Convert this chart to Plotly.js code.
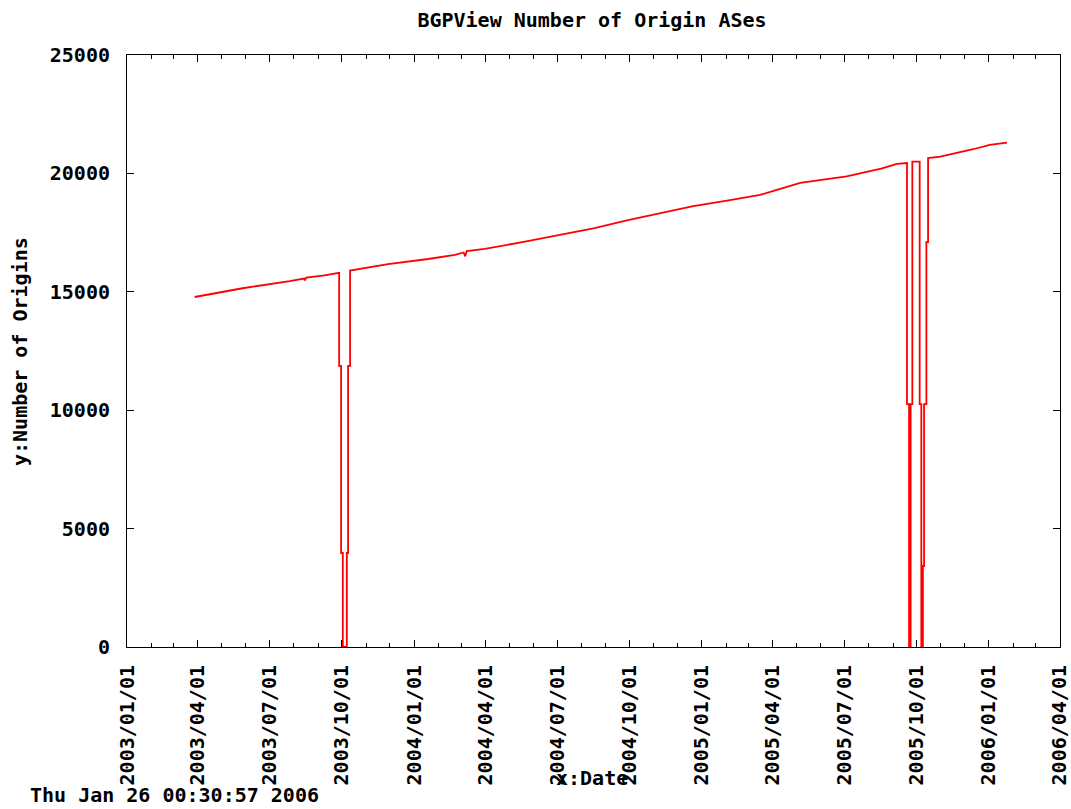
<!DOCTYPE html>
<html>
<head>
<meta charset="utf-8">
<script src="https://cdn.plot.ly/plotly-3.0.1.min.js"></script>
<style>
  html, body { margin: 0; padding: 0; background: #ffffff; }
  #chart { width: 1071px; height: 809px; }
</style>
</head>
<body>
<div id="chart"></div>
<script>
// Sample dates (repeated stamps mark the vertical drops/recoveries of the outages)
const dates = [
  '2003-03-28', '2003-05-28', '2003-07-27', '2003-08-14', '2003-08-15', '2003-08-17',
  '2003-09-07', '2003-09-25',
  '2003-09-27 18:00', '2003-09-27 18:00', '2003-09-30 06:00', '2003-09-30 06:00',
  '2003-10-02 10:00', '2003-10-02 10:00', '2003-10-07 12:00', '2003-10-07 12:00',
  '2003-10-09 02:00', '2003-10-09 02:00', '2003-10-11 16:00', '2003-10-11 16:00',
  '2003-11-29', '2004-01-19', '2004-02-22', '2004-03-04', '2004-03-06', '2004-03-08',
  '2004-03-31', '2004-05-21', '2004-07-09', '2004-08-16', '2004-09-29', '2004-11-09',
  '2004-12-21', '2005-02-02', '2005-03-16', '2005-04-01', '2005-05-06', '2005-07-04',
  '2005-08-17', '2005-09-06', '2005-09-16',
  '2005-09-18 19:00', '2005-09-18 19:00', '2005-09-21 10:00', '2005-09-21 10:00',
  '2005-09-23 10:00', '2005-09-23 10:00', '2005-09-25 14:00', '2005-09-25 14:00',
  '2005-10-04 22:00', '2005-10-04 22:00', '2005-10-07 00:00', '2005-10-07 00:00',
  '2005-10-09 00:00', '2005-10-09 00:00', '2005-10-10 12:00', '2005-10-10 12:00',
  '2005-10-13 10:00', '2005-10-13 10:00', '2005-10-15 14:00', '2005-10-15 14:00',
  '2005-10-31', '2005-12-12', '2006-01-02', '2006-01-24'
];

// Number of origin ASes
const origins = [
  14780, 15150, 15455, 15560, 15480, 15600,
  15680, 15790,
  15800, 11870, 11870, 3970,
  3970, 0, 0, 3970,
  3970, 11870, 11870, 15900,
  16170, 16385, 16560, 16660, 16500, 16720,
  16810, 17115, 17440, 17680, 18030, 18315,
  18620, 18850, 19090, 19250, 19600, 19870,
  20200, 20400, 20430,
  20440, 10260, 10260, 0,
  0, 10260, 10260, 20500,
  20500, 10260, 10260, 0,
  0, 3420, 3420, 10260,
  10260, 17100, 17100, 20650,
  20705, 21020, 21200, 21300
];

const yTickValues = [0, 5000, 10000, 15000, 20000, 25000];
const xRange = ['2003-01-01', '2006-04-01 08:00'];

const titleText = 'BGPView Number of Origin ASes';
const xTitleText = 'x:Date';
const yTitleText = 'y:Number of Origins';
const stampText = 'Thu Jan 26 00:30:57 2006';

const FONT = { family: 'DejaVu Sans Mono, monospace', size: 20, color: '#000000', weight: 'bold' };

const L = 127, R = 1060, T = 55, B = 647;
const W = R - L, H = B - T;
const px = x => (x - L) / W;
const py = y => (B - y) / H;

const trace = {
  type: 'scatter',
  mode: 'lines',
  x: dates,
  y: origins,
  line: { color: '#ff0000', width: 1.8, shape: 'linear' },
  hoverinfo: 'x+y',
  showlegend: false
};

const layout = {
  width: 1071,
  height: 809,
  paper_bgcolor: '#ffffff',
  plot_bgcolor: '#ffffff',
  margin: { l: L, r: 1071 - R, t: T, b: 809 - B, pad: 0 },
  font: FONT,
  showlegend: false,
  title: {
    text: titleText,
    font: FONT,
    x: px(592), xref: 'paper', xanchor: 'center',
    y: 1 - 20 / 809, yref: 'container', yanchor: 'middle'
  },
  xaxis: {
    type: 'date',
    range: xRange,
    dtick: 'M3',
    tick0: '2003-01-01',
    tickformat: '%Y/%m/%d',
    tickangle: -90,
    ticks: 'inside',
    ticklen: 7,
    tickwidth: 1,
    tickcolor: '#000000',
    ticklabelstandoff: 9,
    ticklabeloverflow: 'allow',
    minor: { dtick: 'M1', tick0: '2003-01-01', ticks: 'inside', ticklen: 4, tickwidth: 1, tickcolor: '#000000', showgrid: false },
    showgrid: false,
    zeroline: false,
    showline: true,
    linecolor: '#000000',
    linewidth: 1,
    mirror: 'allticks',
    tickfont: FONT,
    automargin: false,
    fixedrange: true
  },
  yaxis: {
    range: [0, 25000],
    tickvals: yTickValues,
    ticktext: yTickValues.map(String),
    ticks: 'inside',
    ticklen: 7,
    tickwidth: 1,
    tickcolor: '#000000',
    ticklabelstandoff: 12,
    ticklabeloverflow: 'allow',
    showgrid: false,
    zeroline: false,
    showline: true,
    linecolor: '#000000',
    linewidth: 1,
    mirror: 'allticks',
    tickfont: FONT,
    automargin: false,
    fixedrange: true
  },
  annotations: [
    {
      text: yTitleText, textangle: -90, font: FONT, showarrow: false,
      xref: 'paper', yref: 'paper', x: px(20), y: py(352),
      xanchor: 'center', yanchor: 'middle'
    },
    {
      text: xTitleText, font: FONT, showarrow: false,
      xref: 'paper', yref: 'paper', x: px(592), y: py(778),
      xanchor: 'center', yanchor: 'middle'
    },
    {
      text: stampText, font: FONT, showarrow: false, borderpad: 0,
      xref: 'paper', yref: 'paper', x: px(29), y: py(808),
      xanchor: 'left', yanchor: 'bottom'
    }
  ]
};

Plotly.newPlot('chart', [trace], layout, { staticPlot: true, displayModeBar: false });
</script>
</body>
</html>
